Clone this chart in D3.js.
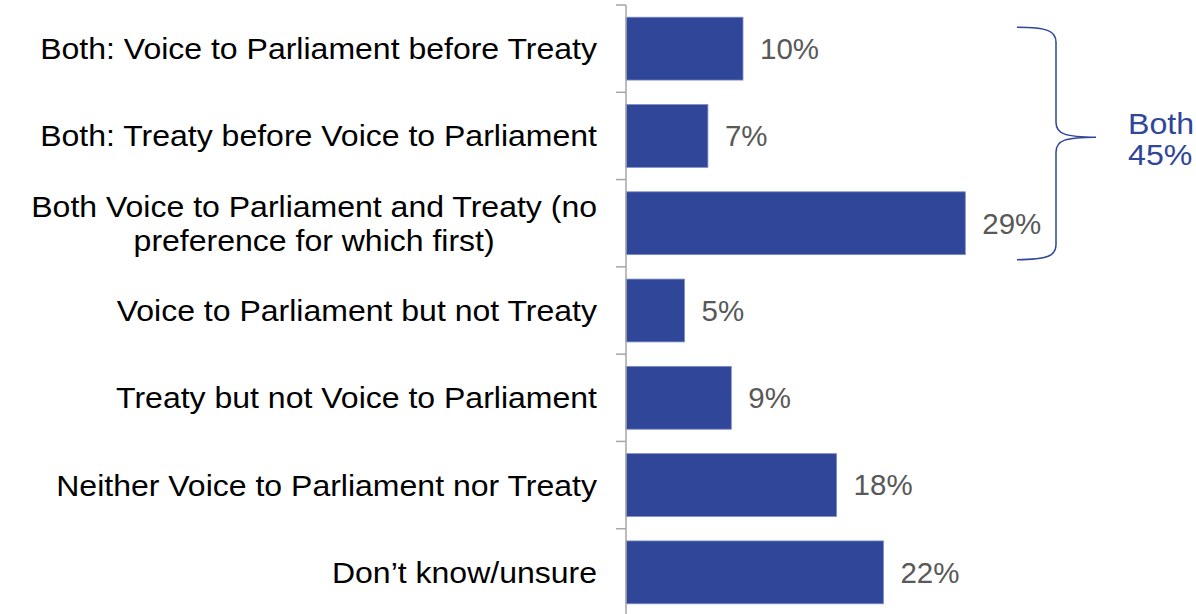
<!DOCTYPE html>
<html>
<head>
<meta charset="utf-8">
<script src="https://cdn.jsdelivr.net/npm/d3@7"></script>
<style>
  html, body { margin: 0; padding: 0; background: #fff; }
  svg { display: block; }
</style>
</head>
<body>
<svg id="chart" width="1196" height="614"></svg>
<script>
// Preference between Voice to Parliament and Treaty (% of respondents)
const categories = [
  ["Both: Voice to Parliament before Treaty"],
  ["Both: Treaty before Voice to Parliament"],
  ["Both Voice to Parliament and Treaty (no", "preference for which first)"],
  ["Voice to Parliament but not Treaty"],
  ["Treaty but not Voice to Parliament"],
  ["Neither Voice to Parliament nor Treaty"],
  ["Don\u2019t know/unsure"]
];
const values = [10, 7, 29, 5, 9, 18, 22];
// Rows grouped under the "Both" brace and the group total
const groupRows = [0, 1, 2];
const groupLabel = ["Both", "45%"];

const W = 1196, H = 614;
const axisX = 626;
const barColor = "#2f4699";
const font = "'Liberation Sans', Arial, sans-serif";

const svg = d3.select("#chart");
const ids = categories.map((d, i) => i);

const y = d3.scaleBand()
  .domain(ids)
  .range([5, 616])
  .paddingInner(0.28)
  .paddingOuter(0.14);

const x = d3.scaleLinear()
  .domain([0, 10])
  .range([axisX, axisX + 117]);

// Bars
svg.append("g")
  .selectAll("rect")
  .data(values)
  .join("rect")
  .attr("x", x(0))
  .attr("y", (d, i) => y(i))
  .attr("width", d => x(d) - x(0))
  .attr("height", y.bandwidth())
  .attr("fill", barColor)
  .attr("stroke", "#7d8cc6")
  .attr("stroke-width", 0.8);

// Category axis with ticks on band boundaries
const axisG = svg.append("g").attr("class", "axis");
const tickYs = ids.map(i => y(i) - y.step() * y.paddingInner() / 2);
tickYs.push(616);
axisG.append("line")
  .attr("x1", axisX).attr("x2", axisX)
  .attr("y1", tickYs[0]).attr("y2", H)
  .attr("stroke", "#a6a6a6").attr("stroke-width", 1.5);
axisG.selectAll("line.tick")
  .data(tickYs)
  .join("line")
  .attr("class", "tick")
  .attr("x1", axisX - 10).attr("x2", axisX)
  .attr("y1", d => d).attr("y2", d => d)
  .attr("stroke", "#a6a6a6").attr("stroke-width", 1.5);

// Category labels (slightly wide set type); wrapped lines are centred
// under the first line, which is right-aligned against the axis
const lineH = 34;
const labelStretch = 1.067;
svg.append("g")
  .selectAll("text")
  .data(categories)
  .join("text")
  .attr("font-family", font)
  .attr("font-size", 30)
  .attr("fill", "#000")
  .attr("transform", (lines, i) => `translate(597,${y(i) + y.bandwidth() / 2}) scale(${labelStretch},1)`)
  .each(function(lines) {
    const y0 = -(lines.length - 1) * lineH / 2;
    const spans = d3.select(this).selectAll("tspan")
      .data(lines)
      .join("tspan")
      .attr("y", (l, j) => y0 + j * lineH)
      .attr("dy", "0.35em")
      .text(l => l);
    const firstW = spans.nodes()[0].getComputedTextLength();
    spans
      .attr("x", (l, j) => j === 0 ? 0 : -firstW / 2)
      .attr("text-anchor", (l, j) => j === 0 ? "end" : "middle");
  });

// Value labels
svg.append("g")
  .selectAll("text")
  .data(values)
  .join("text")
  .attr("x", d => x(d) + 17)
  .attr("y", (d, i) => y(i) + y.bandwidth() / 2)
  .attr("dy", "0.35em")
  .attr("font-family", font)
  .attr("font-size", 29.5)
  .attr("fill", "#595959")
  .text(d => d + "%");

// Brace spanning the grouped rows
const gTop = y(groupRows[0]) + 10;
const gBot = y(groupRows[groupRows.length - 1]) + y.bandwidth() + 5;
const tipY = gTop + (gBot - gTop) * 0.473;
const bx0 = 1017, bx1 = 1056, bx2 = 1096;
const r = 15;
const p = d3.path();
p.moveTo(bx0, gTop);
p.bezierCurveTo(bx1 - 8, gTop, bx1, gTop + 4, bx1, gTop + r);
p.lineTo(bx1, tipY - r);
p.bezierCurveTo(bx1, tipY - 3, bx1 + 10, tipY, bx2, tipY);
p.bezierCurveTo(bx1 + 10, tipY, bx1, tipY + 3, bx1, tipY + r);
p.lineTo(bx1, gBot - r);
p.bezierCurveTo(bx1, gBot - 4, bx1 - 8, gBot, bx0, gBot);
svg.append("path")
  .attr("d", p.toString())
  .attr("fill", "none")
  .attr("stroke", barColor)
  .attr("stroke-width", 1.5);

svg.append("text")
  .attr("font-family", font)
  .attr("font-size", 29.5)
  .attr("fill", barColor)
  .attr("transform", `translate(1128,${tipY - 3}) scale(1.09,1)`)
  .selectAll("tspan")
  .data(groupLabel)
  .join("tspan")
  .attr("x", 0)
  .attr("y", (d, i) => i * 30.5)
  .text(d => d);
</script>
</body>
</html>
